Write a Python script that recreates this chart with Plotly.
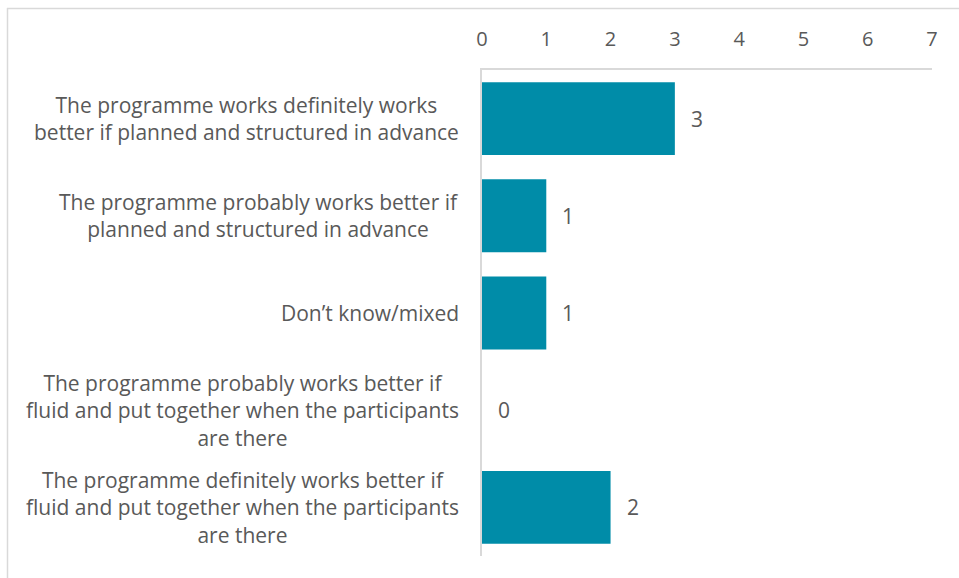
import plotly.graph_objects as go

categories = [
    "The programme works definitely works<br>better if planned and structured in advance",
    "The programme probably works better if<br>planned and structured in advance",
    "Don\u2019t know/mixed",
    "The programme probably works better if<br>fluid and put together when the participants<br>are there",
    "The programme definitely works better if<br>fluid and put together when the participants<br>are there",
]
counts = [3, 1, 1, 0, 2]
x_ticks = [0, 1, 2, 3, 4, 5, 6, 7]

BAR = "#008CA8"
TEXT = "#595959"
LINE = "#D9D9D9"
FONT = "Open Sans"
FS = 21

W, H = 959, 578
L, R, T, B = 482, 27, 70, 22
plot_w = W - L - R
plot_h = H - T - B

fig = go.Figure(
    go.Bar(
        y=list(range(len(categories))),
        x=counts,
        orientation="h",
        marker=dict(color=BAR, line=dict(width=0)),
        hoverinfo="skip",
    )
)

# category labels, centred line by line, right-aligned to the axis
for i, (cat, v) in enumerate(zip(categories, counts)):
    fig.add_annotation(
        x=0, y=i, xref="x", yref="y", text=cat, showarrow=False,
        xanchor="right", yanchor="middle", align="center", xshift=-21,
        font=dict(family=FONT, size=FS, color=TEXT),
    )
    fig.add_annotation(
        x=v, y=i, xref="x", yref="y", text=str(v), showarrow=False,
        xanchor="left", yanchor="middle", xshift=14,
        font=dict(family=FONT, size=FS, color=TEXT),
    )

# chart frame (left and top edges)
def px_x(p):
    return (p - L) / plot_w

def px_y(p):
    return 1 - (p - T) / plot_h

fig.add_shape(type="line", xref="paper", yref="paper",
              x0=px_x(7.5), x1=px_x(7.5), y0=px_y(8), y1=px_y(580),
              line=dict(color=LINE, width=1.5))
fig.add_shape(type="line", xref="paper", yref="paper",
              x0=px_x(7), x1=px_x(960), y0=px_y(8.5), y1=px_y(8.5),
              line=dict(color=LINE, width=1.5))

fig.update_layout(
    width=W, height=H,
    margin=dict(l=L, r=R, t=T, b=B),
    paper_bgcolor="white", plot_bgcolor="white",
    bargap=0.25,
    showlegend=False,
    xaxis=dict(
        side="top", range=[0, 7], tickvals=x_ticks,
        showgrid=False, zeroline=False,
        showline=True, linecolor=LINE, linewidth=1.5,
        ticks="", ticklabelstandoff=14,
        tickfont=dict(family=FONT, size=FS - 1, color=TEXT),
        fixedrange=True,
    ),
    yaxis=dict(
        range=[len(categories) - 0.5, -0.5],
        showticklabels=False, showgrid=False, zeroline=False,
        showline=True, linecolor=LINE, linewidth=1.5,
        ticks="", fixedrange=True,
    ),
)

fig.write_html("out.html")
